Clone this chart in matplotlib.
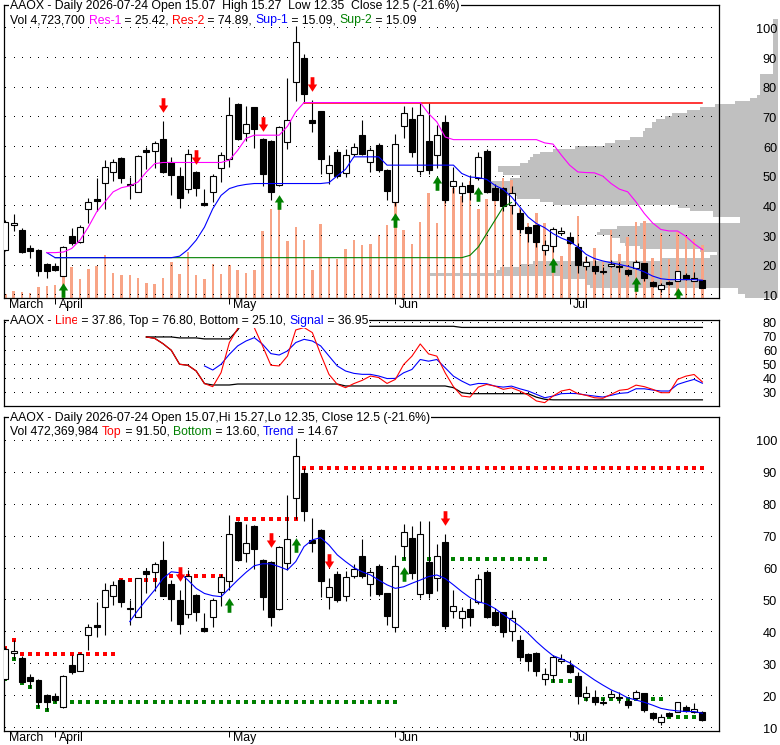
import numpy as np
import matplotlib
matplotlib.use("Agg")
import matplotlib.pyplot as plt
from matplotlib.path import Path
from matplotlib.transforms import IdentityTransform

plt.rcParams['font.family'] = ['Liberation Sans', 'DejaVu Sans']

W, H = 780, 745

# ---------------- data ----------------
open_ = [25.4, 33.7, 32.0, 25.9, 25.2, 20.5, 20.0, 16.6, 29.9, 28.0,
         39.1, 42.4, 47.9, 51.5, 56.3, 47.7, 44.9, 59.1, 58.8, 62.6,
         55.1, 50.2, 45.7, 51.7, 41.3, 44.7, 52.8, 56.0, 74.5, 64.9,
         73.4, 62.6, 62.1, 47.2, 61.8, 82.1, 89.9, 69.0, 72.1, 51.2,
         58.2, 51.3, 57.6, 64.1, 55.1, 60.7, 52.2, 41.6, 67.0, 69.5,
         51.9, 62.0, 57.2, 68.4, 46.8, 44.4, 47.3, 49.6, 58.8, 46.3,
         46.3, 40.5, 37.6, 33.2, 33.7, 25.4, 26.8, 30.9, 29.8, 26.4,
         19.9, 19.9, 18.3, 19.9, 19.9, 18.6, 19.3, 20.9, 14.6, 12.0,
         14.6, 15.0, 16.7, 15.0, 15.07]
high = [35.5, 37.5, 32.6, 27.0, 25.5, 20.8, 21.0, 26.5, 32.8, 33.6,
        42.7, 49.5, 55.5, 56.0, 56.8, 50.0, 57.2, 60.1, 62.0, 68.8,
        56.5, 53.3, 59.5, 52.0, 46.0, 50.8, 58.3, 76.9, 75.0, 74.0,
        73.6, 63.0, 62.5, 67.2, 83.2, 100.8, 91.5, 75.8, 72.3, 57.2,
        59.2, 59.3, 61.3, 69.2, 59.9, 61.4, 52.5, 64.3, 74.0, 73.4,
        75.0, 74.8, 67.6, 70.8, 53.3, 48.1, 50.5, 58.2, 59.5, 47.5,
        46.5, 47.0, 39.2, 33.4, 33.8, 28.7, 33.0, 33.2, 31.3, 27.7,
        23.2, 22.0, 19.4, 22.0, 21.2, 19.0, 22.0, 21.0, 15.0, 14.3,
        14.9, 18.3, 17.4, 17.8, 15.27]
low = [25.0, 31.7, 24.2, 22.5, 16.5, 15.8, 18.3, 16.4, 27.0, 27.8,
       34.4, 38.5, 39.2, 48.6, 48.0, 42.4, 44.8, 52.5, 53.0, 51.3,
       43.7, 39.6, 44.4, 43.6, 40.0, 41.6, 48.3, 53.3, 62.5, 62.0,
       59.8, 47.0, 42.0, 47.0, 59.5, 75.5, 74.8, 65.2, 51.0, 47.4,
       49.4, 49.8, 57.0, 57.2, 51.5, 51.5, 42.3, 40.2, 63.0, 56.6,
       50.7, 50.9, 53.0, 41.1, 44.4, 41.5, 42.1, 48.9, 44.4, 42.0,
       38.5, 37.3, 31.1, 28.0, 26.4, 23.5, 24.6, 30.3, 27.2, 17.6,
       18.6, 17.3, 17.1, 19.6, 17.8, 16.4, 18.8, 15.0, 12.7, 11.0,
       13.6, 14.9, 15.2, 14.7, 12.35]
close = [34.7, 34.3, 24.5, 24.8, 18.2, 18.1, 18.7, 26.2, 27.7, 33.1,
         41.6, 41.8, 53.2, 54.8, 49.6, 47.2, 56.9, 58.4, 61.3, 51.5,
         50.6, 42.7, 57.8, 46.3, 40.5, 50.1, 57.3, 70.7, 62.8, 67.9,
         66.1, 51.0, 44.9, 66.9, 69.2, 95.3, 77.9, 68.1, 56.0, 54.1,
         50.2, 57.3, 59.9, 57.8, 59.0, 52.1, 45.2, 60.9, 71.4, 58.5,
         70.7, 52.4, 64.0, 42.1, 48.4, 46.8, 44.9, 56.6, 44.7, 42.3,
         40.0, 44.4, 32.2, 31.1, 28.0, 26.9, 32.4, 31.6, 27.5, 20.1,
         21.1, 18.1, 17.8, 20.6, 19.4, 17.3, 21.2, 15.7, 13.1, 13.6,
         13.9, 18.1, 15.4, 15.94, 12.5]
volume_m = [0.33, 0.62, 0.51, 0.42, 1.01, 1.10, 1.16, 2.79, 2.79, 1.69,
            2.58, 2.88, 3.83, 2.20, 2.05, 2.05, 1.76, 1.31, 1.25, 1.76,
            3.21, 2.14, 4.07, 2.05, 1.69, 3.03, 2.14, 2.94, 2.49, 2.25,
            2.49, 5.97, 7.93, 7.93, 5.11, 6.30, 5.17, 2.49, 6.59, 3.63,
            3.47, 4.37, 5.17, 4.72, 4.78, 5.61, 6.50, 8.46, 6.06, 4.81,
            6.77, 9.36, 6.68, 11.14, 9.80, 9.09, 10.42, 7.93, 8.82, 8.82,
            10.69, 10.51, 8.02, 6.68, 7.57, 6.68, 5.35, 3.74, 5.44, 7.31,
            3.65, 4.46, 3.21, 6.06, 3.92, 5.44, 6.77, 6.86, 3.56, 5.79,
            3.47, 5.88, 5.61, 5.26, 4.72]

# support / resistance lines (top panel)
res1 = ([None] * 5 + [24.4, 24.4, 24.6, 25.8, 28.6, 33.0, 38.1, 41.5, 44.9, 46.3,
        46.9, 48.2, 51.6, 54.4] + [54.8] * 8 + [55.6, 58.9, 62.9] + [64.0] * 4 +
        [67.0, 71.9] + [75.0] * 15 + [71.3, 68.5, 63.4] + [62.5] * 11 +
        [61.4, 61.0, 57.3, 53.9, 51.6, 51.4, 51.3, 50.2, 47.7, 45.8, 44.9, 41.5,
         37.6, 34.4, 32.2, 31.7, 31.7, 29.9, 27.4, 25.42])
sup1 = ([None] * 5 + [24.4] + [22.7] * 15 +
        [23.2, 25.4, 28.6, 33.0, 39.2, 43.7, 46.0, 46.9, 47.4] + [47.7] * 9 +
        [48.0, 50.3, 52.5] + [56.7] * 4 + [53.9] * 9 +
        [51.1, 49.9, 49.7, 49.1, 47.1, 45.7, 43.2, 39.8, 36.4, 34.2, 32.8, 30.8,
         29.3, 28.2, 26.3, 23.8, 22.4, 21.6, 21.0, 20.4, 19.8, 19.0, 17.9, 16.5,
         15.6, 15.3, 15.3, 15.3, 15.3, 15.09])
sup2 = [None] * 6 + [22.7] * 50 + [23.5, 26.3, 30.8, 35.3, 39.8, 41.3] + [None] * 23
res2 = [None] * 36 + [74.89] * 49

# volume-at-price profile (price bin edges, volume in millions)
profile_lo = [84.5, 77.5, 76.5, 75.5, 74.5, 73.5, 72.5, 71.5, 70.5, 69.5,
              68.5, 66.5, 65.5, 63.5, 62.5, 61.5, 60.5, 59.5, 58.5, 57.5,
              56.5, 55.5, 54.5, 53.5, 51.5, 50.5, 49.5, 48.5, 44.5, 43.5,
              42.5, 41.5, 40.5, 39.5, 38.5, 36.5, 34.5, 33.5, 32.5, 31.5,
              30.5, 29.5, 27.5, 26.5, 25.5, 24.5, 23.5, 22.5, 21.5, 20.5,
              19.5, 18.5, 17.5, 16.5, 15.5, 13.5, 12.5, 10.5, 9.1]
profile_hi = [103.2, 84.5, 77.5, 76.5, 75.5, 74.5, 73.5, 72.5, 71.5, 70.5,
              69.5, 68.5, 66.5, 65.5, 63.5, 62.5, 61.5, 60.5, 59.5, 58.5,
              57.5, 56.5, 55.5, 54.5, 53.5, 51.5, 50.5, 49.5, 48.5, 44.5,
              43.5, 42.5, 41.5, 40.5, 39.5, 38.5, 36.5, 34.5, 33.5, 32.5,
              31.5, 30.5, 29.5, 27.5, 26.5, 25.5, 24.5, 23.5, 22.5, 21.5,
              20.5, 19.5, 18.5, 17.5, 16.5, 15.5, 13.5, 12.5, 10.5]
profile_vol = [0.5, 1.8, 2.1, 2.8, 4.3, 6.3, 7.8, 9.1, 10.6, 11.3,
               12.2, 12.6, 13.3, 13.5, 14.8, 16.3, 17.3, 20.3, 22.5, 23.8,
               24.5, 24.8, 25.0, 25.8, 28.0, 27.5, 25.8, 26.8, 29.1, 27.8,
               26.1, 23.8, 22.5, 10.0, 8.8, 6.5, 3.8, 13.8, 16.1, 17.8,
               18.1, 16.8, 15.8, 15.3, 13.8, 7.8, 6.1, 6.8, 11.8, 24.5,
               25.8, 27.8, 28.1, 35.1, 21.8, 19.3, 18.8, 4.0, 3.3]

# signal arrows (index, price level)
top_up_idx = [7, 33, 47, 52, 57, 66, 76, 81]
top_up_lvl = [11.7, 41.5, 35.3, 48.0, 44.1, 20.1, 13.9, 10.0]
top_dn_idx = [19, 23, 31, 37]
top_dn_lvl = [74.1, 56.8, 67.7, 81.1]
bot_up_idx = [27, 35, 48]
bot_up_lvl = [48.7, 67.5, 58.4]
bot_dn_idx = [21, 32, 39, 53]
bot_dn_lvl = [58.3, 69.0, 62.3, 75.9]

# oscillator panel
osc_line = ([None] * 17 +
            [70.0, 69.0, 65.2, 60.5, 50.5, 49.8, 45.7, 36.7, 34.5, 44.5,
             66.0, 76.0, 84.0, 76.7, 63.6, 49.8, 49.3, 56.4, 75.0, 76.7,
             73.1, 57.6, 43.3, 36.2, 33.8, 36.7, 39.0, 42.1, 41.0, 36.8,
             39.7, 50.3, 56.3, 65.0, 57.9, 56.3, 44.4, 34.5, 27.8, 27.1,
             34.2, 36.1, 34.9, 32.6, 33.7, 31.4, 28.5, 24.3, 23.1, 27.8,
             31.4, 32.6, 29.5, 28.3, 26.6, 26.2, 29.0, 31.9, 32.6, 35.6,
             34.5, 32.6, 30.2, 30.2, 39.7, 42.0, 43.2, 37.86])
osc_signal = ([None] * 24 +
              [49.3, 46.4, 50.5, 57.6, 63.6, 67.1, 69.5, 64.8, 58.1, 57.1,
               60.0, 66.0, 68.3, 67.1, 63.6, 56.4, 49.3, 45.7, 44.0, 43.3,
               43.3, 42.1, 40.3, 40.4, 44.4, 46.8, 53.9, 52.7, 53.9, 48.0,
               42.0, 38.5, 35.6, 36.8, 36.6, 34.9, 34.2, 34.9, 33.0, 31.4,
               29.0, 26.6, 27.8, 29.5, 29.7, 29.5, 28.5, 27.8, 27.1, 28.3,
               29.7, 30.2, 33.0, 33.0, 32.1, 31.4, 31.4, 36.1, 38.0, 39.7,
               36.95])
osc_top = ([None] * 17 + [70.0] * 4 + [69.3] * 3 + [68.6] * 4 + [75.0] +
           [84.0] * 14 + [77.6] * 12 + [76.8] * 30)
osc_bot = ([None] * 17 + [70.0, 69.0, 65.2, 60.5, 50.5, 49.8, 45.7, 36.7] +
           [35.7] * 3 + [36.4] * 13 + [35.0] * 13 + [33.8, 30.2] + [29.5] * 8 +
           [27.0, 25.5] + [25.1] * 19)

# bottom panel levels
top_lvl = ([35.2, 37.6] + [33.1] * 12 + [56.4] * 6 + [57.8] * 7 + [None] +
           [75.4] * 8 + [91.5] * 49)
bot_lvl = ([25.4, 31.7, 24.0, 22.8, 16.5, 15.7] + [18.1] * 42 + [62.9] * 18 +
           [24.8] * 3 + [None] + [19.1] * 10 + [13.6] * 5)
trend = ([None] * 15 +
         [43.4, 47.0, 50.2, 53.3, 56.9, 59.0, 58.7, 56.4, 53.8, 52.2,
          51.5, 51.2, 53.8, 56.4, 58.8, 60.9, 61.5, 61.5, 60.6, 59.6,
          62.2, 66.9, 69.0, 69.7, 67.4, 64.3, 62.2, 60.3, 59.0, 58.0,
          56.4, 54.9, 53.8, 54.3, 55.4, 56.4, 57.5, 58.0, 56.9, 54.9,
          52.8, 50.9, 49.6, 48.9, 47.5, 45.6, 43.8, 42.0, 39.7, 37.1,
          34.8, 32.7, 31.7, 30.5, 28.7, 26.9, 25.1, 23.5, 22.0, 20.9,
          19.5, 18.8, 18.1, 17.2, 16.2, 15.7, 15.4, 15.2, 15.2, 14.67])

month_labels = ['March', 'April', 'May', 'Jun', 'Jul']
month_label_idx = [0, 6, 27, 47, 68]
month_tick_idx = [6, 27, 47, 68]
price_ticks = [10, 20, 30, 40, 50, 60, 70, 80, 90, 100]
osc_ticks = [30, 40, 50, 60, 70, 80]

# ---------------- styling ----------------
MAG, BLUE, RED, GREEN = '#FF00FF', '#0000FF', '#FF0000', '#008000'
VOLC, GRAY = '#F8A486', '#C0C0C0'
FS = 8.8

fig = plt.figure(figsize=(W / 100, H / 100), dpi=100)
fig.patch.set_facecolor('white')


def rect(top, bottom, left=4, right=719):
    return [left / W, 1 - bottom / H, (right - left) / W, (bottom - top) / H]


x = np.arange(len(close))
XMIN, XMAX = -0.157, 86.0
arr = lambda v: np.array(v, dtype=float)

axp = fig.add_axes(rect(5, 298, 4, 778))
axv = fig.add_axes(rect(5, 298))
ax1 = fig.add_axes(rect(5, 298))
ax2 = fig.add_axes(rect(320, 406))
ax3 = fig.add_axes(rect(416.7, 731))
axp.set_zorder(0)
axv.set_zorder(1)
ax1.set_zorder(2)

# profile
lo, hi = arr(profile_lo), arr(profile_hi)
axp.barh(lo, profile_vol, height=hi - lo, align='edge', color=GRAY, lw=0)
axp.set_xlim(77.4, 0)
axp.set_ylim(9.1, 107.9)
axp.axis('off')
axp.patch.set_visible(False)

# volume
axv.bar(x, volume_m, width=0.3, color=VOLC, lw=0)
axv.set_xlim(XMIN, XMAX)
axv.set_ylim(0, 26.1)
axv.axis('off')
axv.patch.set_visible(False)

up_arrow = Path([(-0.13, -0.5), (0.13, -0.5), (0.13, 0.0), (0.32, 0.0), (0.0, 0.5),
                 (-0.32, 0.0), (-0.13, 0.0), (-0.13, -0.5)],
                [Path.MOVETO] + [Path.LINETO] * 6 + [Path.CLOSEPOLY])
dn_arrow = Path([(-0.13, 0.5), (0.13, 0.5), (0.13, 0.0), (0.32, 0.0), (0.0, -0.5),
                 (-0.32, 0.0), (-0.13, 0.0), (-0.13, 0.5)],
                [Path.MOVETO] + [Path.LINETO] * 6 + [Path.CLOSEPOLY])


def dots(ax, levels):
    gx = np.arange(0, 86)
    for lv in levels:
        ax.plot(gx, np.full(gx.shape, float(lv)), ls='none', marker=',',
                color='black', zorder=1)


def candles(ax):
    o, h, l, c = arr(open_), arr(high), arr(low), arr(close)
    ax.vlines(x, l, h, color='black', lw=0.8, zorder=3)
    up = c >= o
    bottom = np.minimum(o, c)
    height = np.maximum(np.abs(c - o), 0.3)
    ax.bar(x[up], height[up], bottom=bottom[up], width=0.72, facecolor='white',
           edgecolor='black', lw=0.8, zorder=4)
    ax.bar(x[~up], height[~up], bottom=bottom[~up], width=0.72, facecolor='black',
           edgecolor='black', lw=0.8, zorder=4)


def frame(ax, yticks, ylim, months=True):
    ax.set_xlim(XMIN, XMAX)
    ax.set_ylim(*ylim)
    ax.patch.set_visible(False)
    for s in ax.spines.values():
        s.set_linewidth(0.9)
        s.set_color('black')
    ax.yaxis.tick_right()
    ax.set_yticks(yticks)
    ax.set_yticklabels([str(t) for t in yticks])
    ax.tick_params(axis='y', length=0, pad=41.8, labelsize=9.2, labelcolor='black')
    plt.setp(ax.get_yticklabels(), ha='right')
    ax.set_ylim(*ylim)
    if months:
        ax.set_xticks(month_tick_idx)
        ax.set_xticklabels([])
        ax.tick_params(axis='x', length=4.3, width=0.72, direction='out', color='black')
        for lab, idx in zip(month_labels, month_label_idx):
            ax.annotate(lab, xy=(idx, 0), xycoords=('data', 'axes fraction'),
                        xytext=(3.5, -7), textcoords='offset pixels',
                        ha='left', va='center', fontsize=FS, annotation_clip=False)
    else:
        ax.set_xticks([])


def arrows(ax, idx, lvl, path, color):
    ax.plot(idx, lvl, ls='none', marker=path, ms=10.5, color=color, mew=0, zorder=8)


# ---- top panel ----
dots(ax1, price_ticks)
candles(ax1)
ax1.plot(x, arr(sup2), color=GREEN, lw=0.8, zorder=5)
ax1.plot(x, arr(res2), color=RED, lw=1.1, zorder=5)
ax1.plot(x, arr(sup1), color=BLUE, lw=0.8, zorder=6)
ax1.plot(x, arr(res1), color=MAG, lw=0.8, zorder=6)
arrows(ax1, top_up_idx, top_up_lvl, up_arrow, GREEN)
arrows(ax1, top_dn_idx, top_dn_lvl, dn_arrow, RED)
frame(ax1, price_ticks, (9.1, 107.9))

# ---- middle panel ----
dots(ax2, osc_ticks)
ax2.plot(x, arr(osc_top), color='black', lw=0.9, zorder=3)
ax2.plot(x, arr(osc_bot), color='black', lw=0.9, zorder=3)
ax2.plot(x, arr(osc_signal), color=BLUE, lw=0.8, zorder=4)
ax2.plot(x, arr(osc_line), color=RED, lw=0.8, zorder=5)
frame(ax2, osc_ticks, (20.7, 82.1), months=False)

# ---- bottom panel ----
dots(ax3, price_ticks)
ax3.plot(x, arr(top_lvl), ls='none', marker='s', ms=2.6, color=RED, mew=0, zorder=2)
ax3.plot(x, arr(bot_lvl), ls='none', marker='s', ms=2.6, color=GREEN, mew=0, zorder=2)
candles(ax3)
ax3.plot(x, arr(trend), color=BLUE, lw=0.8, zorder=6)
arrows(ax3, bot_up_idx, bot_up_lvl, up_arrow, GREEN)
arrows(ax3, bot_dn_idx, bot_dn_lvl, dn_arrow, RED)
frame(ax3, price_ticks, (9.1, 107.6))

# ---- header texts ----
renderer = fig.canvas.get_renderer()


def twidth(s):
    t = fig.text(0, 0, s, fontsize=FS, transform=IdentityTransform())
    w = t.get_window_extent(renderer).width
    t.remove()
    return w


def header(x0, y_img, segs, bg=False):
    y = H - y_img
    bar = twidth('|')
    prefix = ''
    for s, c in segs:
        xx = x0 + (twidth(prefix + '|') - bar if prefix else 0)
        kw = dict(bbox=dict(facecolor='white', edgecolor='none', pad=0.8)) if bg else {}
        fig.text(xx, y, s, color=c, fontsize=FS, transform=IdentityTransform(),
                 ha='left', va='center', zorder=10, **kw)
        prefix += s


K = 'black'
header(10, 6.5, [("AAOX - Daily 2026-07-24 Open 15.07  High 15.27  Low 12.35  Close 12.5 (-21.6%)", K)], bg=True)
header(10.5, 20.5, [("Vol 4,723,700 ", K), ("Res-1", MAG), (" = 25.42, ", K), ("Res-2", RED),
                    (" = 74.89, ", K), ("Sup-1", BLUE), (" = 15.09, ", K), ("Sup-2", GREEN),
                    (" = 15.09", K)])
header(10, 321.3, [("AAOX - ", K), ("Line", RED), (" = 37.86, Top = 76.80, Bottom = 25.10, ", K),
                   ("Signal", BLUE), (" = 36.95", K)], bg=True)
header(10, 418.2, [("AAOX - Daily 2026-07-24 Open 15.07,Hi 15.27,Lo 12.35, Close 12.5 (-21.6%)", K)], bg=True)
header(10.5, 431.7, [("Vol 472,369,984 ", K), ("Top", RED), (" = 91.50, ", K), ("Bottom", GREEN),
                     (" = 13.60, ", K), ("Trend", BLUE), (" = 14.67", K)])

fig.savefig('out.png', dpi=100, facecolor='white')
